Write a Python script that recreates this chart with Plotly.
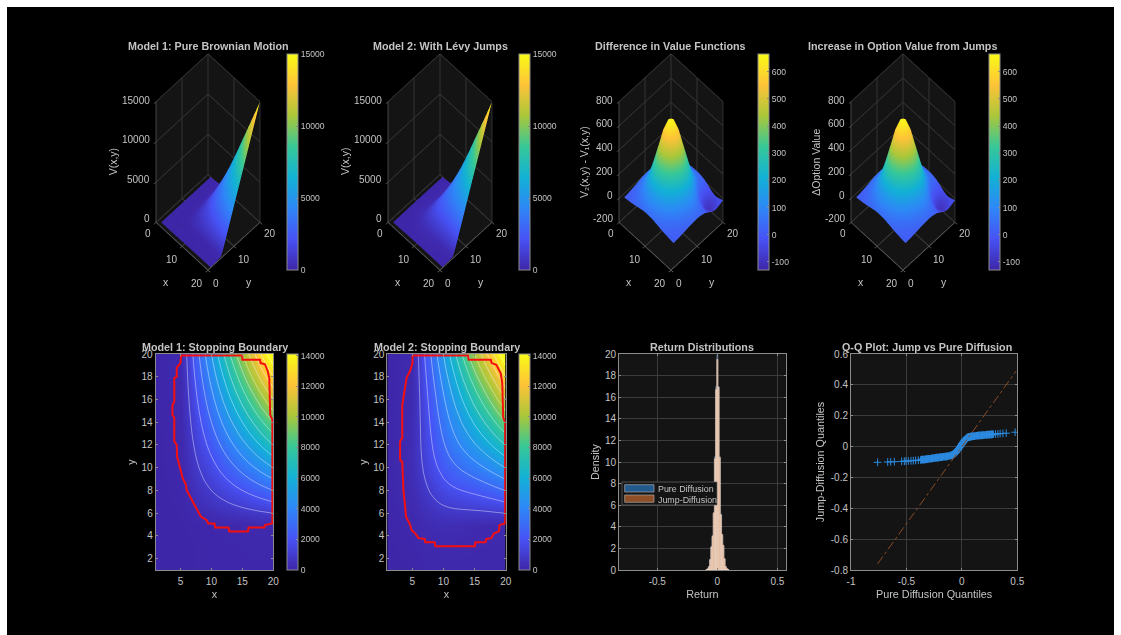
import plotly.graph_objects as go

GRID = list(range(1, 21))
V1_ROWS = [
[0,0,0,0,0,10,20,30,30,40,40,40,40,50,50,50,50,60,60,60],
[0,0,0,0,0,10,20,30,40,40,50,50,50,60,60,60,70,70,70,80],
[0,0,0,0,0,10,20,30,40,50,50,60,60,70,70,80,80,90,90,100],
[0,0,0,0,0,20,30,40,50,60,60,70,80,90,90,100,110,110,120,130],
[0,0,0,0,10,30,40,50,60,70,80,90,100,110,120,130,140,150,160,170],
[0,10,10,20,30,70,130,200,270,330,400,470,530,600,670,730,800,870,930,1000],
[0,10,20,30,50,130,270,400,530,670,800,930,1070,1200,1330,1470,1600,1730,1870,2000],
[0,10,20,40,70,200,400,600,800,1000,1200,1400,1600,1800,2000,2200,2400,2600,2800,3000],
[0,10,30,50,80,270,530,800,1070,1330,1600,1870,2130,2400,2670,2930,3200,3470,3730,4000],
[0,20,30,60,100,330,670,1000,1330,1670,2000,2330,2670,3000,3330,3670,4000,4330,4670,5000],
[0,20,40,60,110,400,800,1200,1600,2000,2400,2800,3200,3600,4000,4400,4800,5200,5600,6000],
[0,20,40,70,130,470,930,1400,1870,2330,2800,3270,3730,4200,4670,5130,5600,6070,6540,7000],
[0,20,50,80,140,530,1070,1600,2130,2670,3200,3730,4270,4800,5340,5870,6400,6940,7470,8000],
[0,30,50,90,160,600,1200,1800,2400,3000,3600,4200,4800,5400,6000,6600,7200,7800,8400,9000],
[0,30,60,100,170,670,1330,2000,2670,3340,4000,4670,5340,6000,6670,7340,8000,8670,9340,10000],
[0,30,60,110,190,730,1470,2200,2930,3670,4400,5140,5870,6600,7340,8070,8800,9540,10270,11000],
[0,30,70,120,200,800,1600,2400,3200,4000,4800,5600,6400,7200,8000,8800,9600,10400,11200,12000],
[0,40,70,130,220,870,1730,2600,3470,4340,5200,6070,6940,7800,8670,9540,10400,11270,12140,13000],
[0,40,80,140,230,930,1870,2800,3740,4670,5600,6540,7470,8400,9340,10270,11200,12140,13070,14000],
[0,40,80,150,250,1000,2000,3000,4000,5000,6000,7000,8000,9000,10000,11000,12000,13000,14000,15000],
]
DIFF_ROWS = [
[7,10,13,18,22,29,34,40,43,44,43,40,34,29,22,18,13,10,7,4],
[10,14,20,27,35,46,56,64,70,73,70,64,56,46,35,27,20,14,10,7],
[13,20,28,40,54,70,88,103,113,117,113,103,88,70,54,40,28,20,13,8],
[18,27,40,57,80,106,133,157,175,180,175,157,133,106,80,57,40,27,18,11],
[22,35,54,80,113,152,193,231,255,264,255,231,193,152,113,80,54,35,22,14],
[29,46,70,106,152,207,264,317,353,366,353,317,264,207,152,106,70,46,29,18],
[34,56,88,133,193,264,340,407,455,472,455,407,340,264,193,133,88,56,34,22],
[40,64,103,157,231,317,407,490,548,568,548,490,407,317,231,157,103,64,40,24],
[43,70,113,175,255,353,455,548,612,635,612,548,455,353,255,175,113,70,43,26],
[44,73,117,180,264,366,472,568,635,660,635,568,472,366,264,180,117,73,44,27],
[43,70,113,175,255,353,455,548,612,635,612,548,455,353,255,175,113,70,43,26],
[40,64,103,157,231,317,407,490,548,568,548,489,405,314,225,149,94,56,34,21],
[34,56,88,133,193,264,340,407,455,472,455,405,336,255,178,112,65,35,19,13],
[29,46,70,106,152,207,264,317,353,366,353,314,255,189,121,64,23,4,-2,0],
[22,35,54,80,113,152,193,231,255,264,255,225,178,121,61,10,-24,-35,-30,-17],
[18,27,40,57,80,106,133,157,175,180,175,149,112,64,10,-39,-67,-69,-52,-31],
[13,20,28,40,54,70,88,103,113,117,113,94,65,23,-24,-67,-90,-87,-65,-39],
[10,14,20,27,35,46,56,64,70,73,70,56,35,4,-35,-69,-87,-82,-60,-35],
[7,10,13,18,22,29,34,40,43,44,43,34,19,-2,-30,-52,-65,-60,-45,-27],
[4,7,8,11,14,18,22,24,26,27,26,21,13,0,-17,-31,-39,-35,-27,-15],
]
V2_ROWS = [[a + b for a, b in zip(r1, r2)] for r1, r2 in zip(V1_ROWS, DIFF_ROWS)]

B1_X = [5.09,15,15,17.85,17.95,18.65,19.1,19.35,19.5,19.85,19.85,18.65,18.55,16,15.9,12.9,12.75,10.6,10.5,9.5,9.2,8.3,7.1,6,5.9,5.35,4.8,4.45,4.4,4,4,3.7,3.7,4,4,4.4,4.4,5,5.09]
B1_Y = [19.86,19.86,19.5,19.5,19.2,19.1,18.5,17.9,14.65,14.2,5.1,4.95,4.73,4.73,4.38,4.38,4.73,4.73,5.08,5.08,5.4,5.7,6.9,8.05,8.5,9.1,10.25,11,12,12.3,14.4,14.65,15.5,15.8,17.9,18,18.8,19.2,19.86]
B2_X = [5.04,13.97,14.05,17.6,17.75,18.5,19.2,19.45,19.6,19.9,19.9,19,18.9,18.1,17.7,16.9,16.75,15.15,15.05,8.7,8.6,7.1,7,6,5.5,4.9,4.65,4,3.85,3.6,3.4,3.05,3.05,3.4,3.4,3.75,4.1,4.65,5.04,5.04]
B2_Y = [19.86,19.86,19.5,19.5,19.2,19.06,18.3,17.45,14.4,14,5.1,4.95,4.4,4.2,3.8,3.73,3.44,3.44,3.1,3.1,3.44,3.44,3.73,3.8,4.2,4.5,5,5.7,6.7,7.9,10.5,10.7,12.3,12.6,15.5,16.7,17.9,18.5,19.2,19.86]

HIST_X = [-0.09,-0.08,-0.07,-0.06,-0.05,-0.04,-0.03,-0.02,-0.01,0,0.01,0.02,0.03,0.04,0.05,0.06,0.07,0.08,0.09]
HIST_PURE = [0.03,0.1,0.3,1,2.2,3.2,5.2,10.5,17,19.9,17,10.5,5.2,3.2,2.2,1,0.3,0.1,0.03]
HIST_JUMP = [0.05,0.12,0.32,0.95,2.1,3.1,5.3,10.3,16.7,19.5,16.9,10.4,5.1,3.3,2.3,1.05,0.32,0.13,0.06]

QQ_X = [-0.76,-0.669,-0.642,-0.609,-0.543,-0.519,-0.504,-0.483,-0.459,-0.438,-0.417,-0.393,-0.372,-0.36,-0.345,-0.33,-0.315,-0.3,-0.285,-0.27,-0.255,-0.24,-0.225,-0.21,-0.195,-0.18,-0.165,-0.15,-0.135,-0.12,-0.105,-0.09,-0.08,-0.07,-0.06,-0.05,-0.04,-0.03,-0.02,-0.01,0,0.01,0.02,0.03,0.04,0.05,0.06,0.07,0.08,0.09,0.1,0.115,0.13,0.145,0.16,0.175,0.19,0.205,0.22,0.235,0.25,0.265,0.28,0.304,0.325,0.345,0.37,0.4,0.48]
QQ_Y = [-0.102,-0.1,-0.099,-0.098,-0.096,-0.095,-0.094,-0.093,-0.092,-0.091,-0.09,-0.088,-0.087,-0.085,-0.084,-0.083,-0.081,-0.08,-0.079,-0.077,-0.075,-0.073,-0.072,-0.071,-0.069,-0.068,-0.066,-0.065,-0.063,-0.061,-0.059,-0.055,-0.052,-0.048,-0.042,-0.034,-0.024,-0.015,-0.005,0.005,0.016,0.027,0.037,0.045,0.052,0.058,0.061,0.063,0.065,0.066,0.067,0.068,0.07,0.071,0.072,0.073,0.074,0.075,0.076,0.077,0.078,0.079,0.08,0.081,0.082,0.084,0.085,0.087,0.093]
DIAG_X = [-0.76,0.49]
DIAG_Y = [-0.76,0.49]

PARULA = [[0,'#3e26a8'],[1/7,'#4752f4'],[2/7,'#2e87f7'],[3/7,'#12b1d6'],[4/7,'#37c897'],[5/7,'#abc739'],[6/7,'#fec338'],[1,'#f9fb15']]
FG = '#c4c4c4'
FONT = 'Liberation Sans'
OX, OY = 7, 7
W, H = 1114, 628
def px(x): return (x - OX) / W
def py(y): return 1 - (y - OY) / H
def labels(vals): return [str(v) for v in vals]

fig = go.Figure()
shapes, annos = [], []
def text(t, x, y, size=10.5, bold=False, angle=0, anchor='center'):
    annos.append(dict(text=('<b>%s</b>' % t) if bold else t, x=px(x), y=py(y), xref='paper', yref='paper', showarrow=False,
                      xanchor=anchor, yanchor='middle', textangle=angle, font=dict(family=FONT, size=size, color=FG)))

def cbar(x0, tickvals, y0=54, y1=270):
    return dict(x=px(x0), xanchor='left', y=py(y1), yanchor='bottom', len=(y1 - y0), lenmode='pixels', thickness=11, thicknessmode='pixels',
                xpad=0, ypad=0, outlinecolor='#8c8c8c', outlinewidth=1, tickmode='array', tickvals=tickvals, ticktext=labels(tickvals), ticks='inside', ticklen=2, tickcolor='#8c8c8c',
                tickfont=dict(family=FONT, size=8.6, color=FG))

CX = [208.3, 440, 671, 902.7]
CB = [287, 518.5, 757.5, 988.5]
ZS = [V1_ROWS, V2_ROWS, DIFF_ROWS, DIFF_ROWS]
ZR = [[0, 15000], [0, 15000], [-200, 800], [-200, 800]]
CR = [[0, 15000], [0, 15000], [-130, 665], [-130, 665]]
ZT = [[0, 5000, 10000, 15000]] * 2 + [[-200, 0, 200, 400, 600, 800]] * 2
CT = [[0, 5000, 10000, 15000]] * 2 + [[-100, 0, 100, 200, 300, 400, 500, 600]] * 2
ZL = ['V(x,y)', 'V(x,y)', 'V₂(x,y) - V₁(x,y)', 'ΔOption Value']
ZLX = [-95, -95, -87, -87]
T1 = ['Model 1: Pure Brownian Motion', 'Model 2: With Lévy Jumps', 'Difference in Value Functions', 'Increase in Option Value from Jumps']
XY_TICKS = [0, 10, 20]
SCENE_W, SCENE_H = 224, 290
S = 0.507
layout = {}
for i in range(4):
    name = 'scene' if i == 0 else 'scene%d' % (i + 1)
    fig.add_trace(go.Surface(x=GRID, y=GRID, z=ZS[i], scene=name, colorscale=PARULA, cmin=CR[i][0], cmax=CR[i][1],
                             lighting=dict(ambient=1, diffuse=0, specular=0, fresnel=0, roughness=1), hoverinfo='skip',
                             colorbar=cbar(CB[i], CT[i])))
    ax = dict(showbackground=True, backgroundcolor='#141414', gridcolor='#3c3c3c', linecolor='#8c8c8c', showline=True, zeroline=False,
              ticks='outside', ticklen=3, tickcolor='#8c8c8c', showspikes=False, showticklabels=False, title=dict(text=''))
    layout[name] = dict(
        domain=dict(x=[px(CX[i] - SCENE_W / 2), px(CX[i] + SCENE_W / 2)], y=[py(161.5 + SCENE_H / 2), py(161.5 - SCENE_H / 2)]),
        xaxis=dict(ax, range=[0, 20], tickvals=XY_TICKS), yaxis=dict(ax, range=[0, 20], tickvals=XY_TICKS),
        zaxis=dict(ax, range=ZR[i], tickvals=ZT[i]),
        aspectmode='manual', aspectratio=dict(x=S, y=S, z=4.2 * S), bgcolor='rgba(0,0,0,0)',
        camera=dict(projection=dict(type='orthographic'), eye=dict(x=1.82, y=-1.82, z=6.06), center=dict(x=0, y=0, z=0), up=dict(x=0, y=0, z=1)),
    )
    text(T1[i], CX[i], 46.5, 10.75, True)
    text('x', CX[i] - 42, 282)
    text('y', CX[i] + 41, 282)
    text(ZL[i], CX[i] + ZLX[i], 162, 10.5, False, -90)
    zlo, zhi = ZR[i]
    for v in ZT[i]:
        text(str(v), CX[i] - 56, 219 - (v - zlo) / (zhi - zlo) * 119, 10, False, 0, 'right')
    for v, dx, dy in zip(XY_TICKS, [-60, -36, -11], [234, 259, 283]):
        text(str(v), CX[i] + dx, dy, 10)
    for v, dx, dy in zip(XY_TICKS, [8, 36, 62], [283, 259, 234]):
        text(str(v), CX[i] + dx, dy, 10)

# bottom row
frames = [(155.7, 273.3), (387.3, 505.7), (619, 785.7), (851, 1017.3)]
base = dict(showline=True, mirror='ticks', linecolor='#8c8c8c', ticks='inside', ticklen=2, tickcolor='#8c8c8c', zeroline=False,
            tickfont=dict(family=FONT, size=10, color=FG), layer='above traces')
def set_axes(k, xr, xt, yr, yt, xtitle, ytitle, grid):
    a = dict(base, showgrid=grid, gridcolor='#3c3c3c', gridwidth=1, tickmode='array')
    layout['xaxis%d' % k] = dict(a, domain=[px(frames[k-1][0]), px(frames[k-1][1])], anchor='y%d' % k, range=xr, tickvals=xt, ticktext=labels(xt), ticklabelstandoff=2,
                                 title=dict(text=xtitle, standoff=4, font=dict(family=FONT, size=10.8, color=FG)))
    layout['yaxis%d' % k] = dict(a, domain=[py(570), py(354)], anchor='x%d' % k, range=yr, tickvals=yt, ticktext=labels(yt),
                                 title=dict(text=ytitle, standoff=3, font=dict(family=FONT, size=10.8, color=FG)))
YT = list(range(2, 21, 2))
for k, (Z, bx, by, cb) in enumerate([(V1_ROWS, B1_X, B1_Y, 287), (V2_ROWS, B2_X, B2_Y, 518.5)], start=1):
    fig.add_trace(go.Heatmap(x=GRID, y=GRID, z=Z, zmin=0, zmax=14100, zsmooth='best', colorscale=PARULA, xaxis='x%d' % k, yaxis='y%d' % k,
                             hoverinfo='skip', colorbar=cbar(cb, list(range(0, 14001, 2000)), 354, 570)))
    fig.add_trace(go.Contour(x=GRID, y=GRID, z=Z, xaxis='x%d' % k, yaxis='y%d' % k, showscale=False, hoverinfo='skip', showlegend=False,
                             contours=dict(coloring='none', start=1000, end=14000, size=1000, showlabels=False),
                             line=dict(color='rgba(255,255,255,0.6)', width=0.7)))
    fig.add_trace(go.Scatter(x=bx, y=by, mode='lines', xaxis='x%d' % k, yaxis='y%d' % k, line=dict(color='#f50f0f', width=2), hoverinfo='skip', showlegend=False))
    set_axes(k, [1, 20], [5, 10, 15, 20], [1, 20], YT, 'x', 'y', False)

fig.add_trace(go.Bar(x=HIST_X, y=HIST_PURE, width=0.01, name='Pure Diffusion', xaxis='x3', yaxis='y3', showlegend=False, hoverinfo='skip',
                     marker=dict(color='rgba(45,125,200,0.55)', line=dict(color='rgba(200,200,200,0.6)', width=0.5))))
fig.add_trace(go.Bar(x=HIST_X, y=HIST_JUMP, width=0.01, name='Jump-Diffusion', xaxis='x3', yaxis='y3', showlegend=False, hoverinfo='skip',
                     marker=dict(color='rgba(240,175,130,0.8)', line=dict(color='rgba(255,235,220,0.9)', width=0.5))))
set_axes(3, [-0.819, 0.569], [-0.5, 0, 0.5], [0, 20], [0] + YT, 'Return', 'Density', True)

# legend of the return distributions
def rect(x0, y0, x1, y1, fill, line, lw=0.7):
    shapes.append(dict(type='rect', xref='paper', yref='paper', x0=px(x0), x1=px(x1), y0=py(y1), y1=py(y0), fillcolor=fill, line=dict(color=line, width=lw), layer='above'))
rect(622, 482, 717, 505, '#141414', '#6a6a6a')
rect(624.7, 484.7, 654, 492, '#235a8e', '#a8a8a8')
rect(624.7, 495, 654, 502.3, '#8f4f27', '#a8a8a8')
text('Pure Diffusion', 656, 489, 8.9, False, 0, 'left')
text('Jump-Diffusion', 656, 499.5, 8.9, False, 0, 'left')

QQ_LW = [2.0 if -0.37 < v < 0.29 else 1.0 for v in QQ_X]
fig.add_trace(go.Scatter(x=QQ_X, y=QQ_Y, mode='markers', xaxis='x4', yaxis='y4', showlegend=False, hoverinfo='skip',
                         marker=dict(symbol='cross-thin', size=5.5, color='#2b8ae0', line=dict(color='#2b8ae0', width=QQ_LW))))
fig.add_trace(go.Scatter(x=DIAG_X, y=DIAG_Y, mode='lines', xaxis='x4', yaxis='y4', showlegend=False, hoverinfo='skip',
                         line=dict(color='#8a4b25', width=1, dash='dashdot')))
set_axes(4, [-1, 0.5], [-1, -0.5, 0, 0.5], [-0.8, 0.6], [-0.8, -0.6, -0.4, -0.2, 0, 0.2, 0.4, 0.6], 'Pure Diffusion Quantiles', 'Jump-Diffusion Quantiles', True)

for t, cx in zip(['Model 1: Stopping Boundary', 'Model 2: Stopping Boundary', 'Return Distributions', 'Q-Q Plot: Jump vs Pure Diffusion'], [215, 447, 702, 927]):
    text(t, cx, 346.5, 10.75, True)

fig.update_layout(width=W, height=H, margin=dict(l=0, r=0, t=0, b=0, autoexpand=False), paper_bgcolor='#000000', plot_bgcolor='#141414',
                  barmode='overlay', showlegend=False, annotations=annos, shapes=shapes, **layout)
fig.write_html("out.html", default_width='%dpx' % W, default_height='%dpx' % H,
               post_script="document.body.style.margin='7px';document.body.style.overflow='hidden';")
